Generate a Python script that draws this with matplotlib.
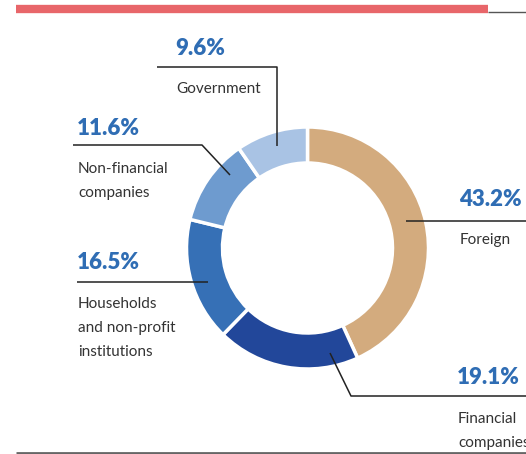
import matplotlib
matplotlib.use("Agg")
import matplotlib.pyplot as plt

# ---- data ----
categories = ["Foreign", "Financial companies", "Households and non-profit institutions",
              "Non-financial companies", "Government"]
shares = [43.2, 19.1, 16.5, 11.6, 9.6]
pct_labels = ["43.2%", "19.1%", "16.5%", "11.6%", "9.6%"]
name_labels = ["Foreign", "Financial\ncompanies", "Households\nand non-profit\ninstitutions",
               "Non-financial\ncompanies", "Government"]
colors = ["#D3AB7E", "#22479A", "#3670B6", "#6E9BCF", "#A9C3E4"]

W, H = 526, 454
fig = plt.figure(figsize=(W / 100, H / 100), dpi=100)
ax = fig.add_axes([0, 0, 1, 1])

def Y(ypx):
    return H - ypx

cx, cy, R = 307.5, Y(248), 121
ax.pie(shares, colors=colors, startangle=90, counterclock=False, radius=R,
       center=(cx, cy), wedgeprops=dict(width=36, edgecolor="white", linewidth=2.5))
ax.set_xlim(0, W)
ax.set_ylim(0, H)
ax.set_aspect("equal")
ax.axis("off")

blue = "#2F6DB4"
grey = "#333333"
lc = "#222222"
FONT = ["Lato", "DejaVu Sans"]
psize = 16
nsize = 11
lh = 24  # line spacing for names

# decorations: top red bar and thin lines
ax.plot([16, 488], [Y(9), Y(9)], color="#E8666A", lw=6, solid_capstyle="butt")
ax.plot([488, 526], [Y(12), Y(12)], color="#555555", lw=1, solid_capstyle="butt")
ax.plot([16, 526], [Y(452.5), Y(452.5)], color="#666666", lw=2, solid_capstyle="butt")

def leader(pts):
    xs = [p[0] for p in pts]
    ys = [Y(p[1]) for p in pts]
    ax.plot(xs, ys, color=lc, lw=1.1, solid_capstyle="butt")

def label(i, x, ybase_pct, ybase_name):
    ax.text(x, Y(ybase_pct), pct_labels[i], color=blue, fontsize=psize,
            fontweight="heavy", family=FONT, va="baseline", ha="left")
    for k, line in enumerate(name_labels[i].split("\n")):
        ax.text(x + 1, Y(ybase_name + k * lh), line, color=grey, fontsize=nsize,
                family=FONT, va="baseline", ha="left")

# Foreign
leader([(406, 221), (526, 221)])
label(0, 459, 206, 244)
# Financial companies
leader([(330, 353), (351, 396), (526, 396)])
label(1, 457, 384, 423)
# Households
leader([(77, 282), (208, 282)])
label(2, 77, 269, 308)
# Non-financial
leader([(73, 145), (202, 145), (230, 175)])
label(3, 77, 135, 173)
# Government
leader([(157, 67), (277, 67), (277, 146)])
label(4, 175, 55, 93)

fig.savefig("out.png", dpi=100)
